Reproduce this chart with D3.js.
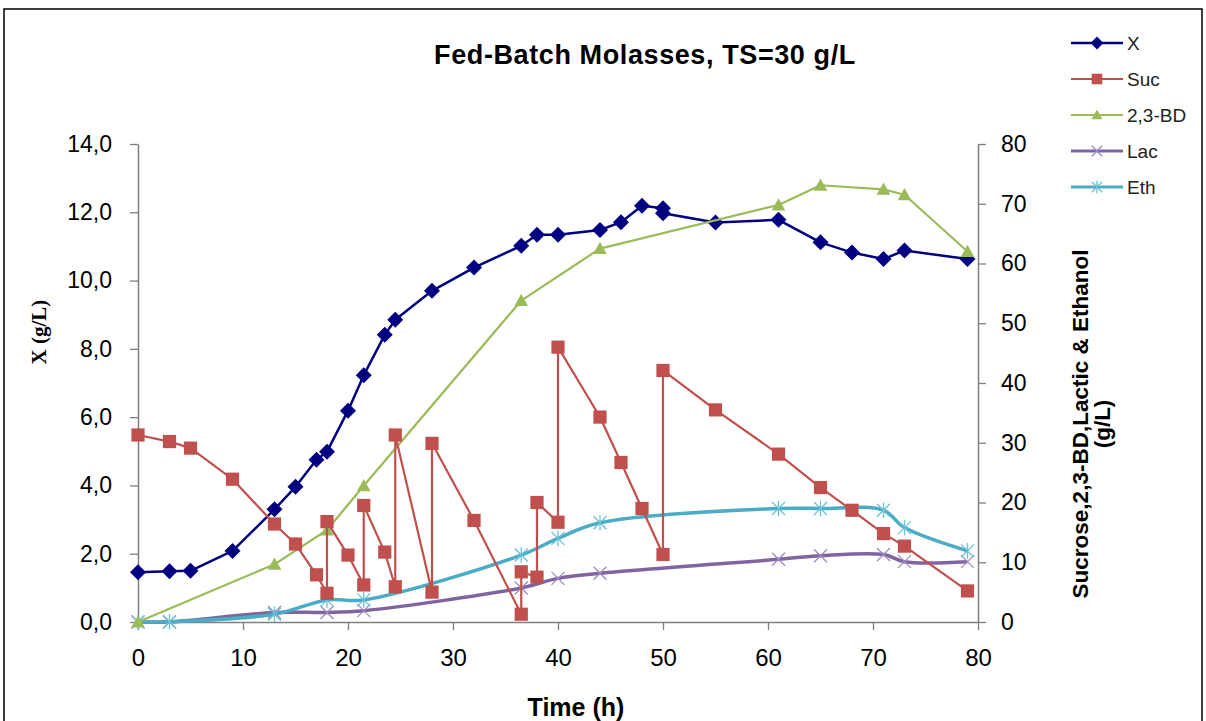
<!DOCTYPE html>
<html><head><meta charset="utf-8">
<script src="https://cdn.jsdelivr.net/npm/d3@7"></script>
<style>
html,body{margin:0;padding:0;background:#fff;}
svg{display:block;}
text{font-family:"Liberation Sans",Arial,sans-serif;}
</style></head>
<body>
<script>
// ---- data ----
const xTime = [0,3,5,9,13,15,17,18,20,21.5,23.5,24.5,28,32,36.5,38,40,44,46,48,50,50,55,61,65,68,71,73,79];
const xBio  = [1.46,1.49,1.50,2.08,3.30,3.96,4.75,4.99,6.19,7.23,8.41,8.85,9.70,10.38,11.02,11.34,11.34,11.48,11.71,12.19,12.12,11.97,11.70,11.78,11.12,10.82,10.63,10.88,10.63];

const sucTime = [0,3,5,9,13,15,17,18,18,20,21.5,21.5,23.5,24.5,24.5,28,28,32,36.5,36.5,38,38,40,40,44,46,48,50,50,55,61,65,68,71,73,79];
const sucVal  = [31.3,30.2,29.1,23.9,16.4,13.05,7.9,4.8,16.8,11.2,6.2,19.5,11.7,5.9,31.3,5.0,29.9,17.0,1.3,8.4,7.5,20.0,16.7,46.0,34.3,26.7,19.0,11.3,42.1,35.5,28.1,22.5,18.7,14.8,12.7,5.2];

const bdTime = [0,13,18,21.5,36.5,44,61,65,71,73,79];
const bdVal  = [0,9.65,15.4,22.8,53.8,62.5,69.8,73.1,72.4,71.5,62.0];

const lacTime = [0,3,13,18,21.5,36.5,40,44,61,65,71,73,79];
const lacVal  = [0,0,1.6,1.6,1.9,5.7,7.3,8.15,10.5,11.1,11.3,10.1,10.1];

const ethTime = [0,3,13,18,21.5,36.5,40,44,61,65,71,73,79];
const ethVal  = [0,0.05,1.3,3.7,3.7,11.2,14.0,16.6,19.0,19.0,18.7,15.8,11.9];

const xTicks = [0,10,20,30,40,50,60,70,80];
const yLeftTicks = [0,2,4,6,8,10,12,14];
const yRightTicks = [0,10,20,30,40,50,60,70,80];

const seriesNames = ["X","Suc","2,3-BD","Lac","Eth"];
const colors = {X:"#000080", Suc:"#C0504D", BD:"#9BBB59", Lac:"#8064A2", Eth:"#4BACC6"};

// ---- layout ----
const W = 1206, H = 721;
const svg = d3.select("body").append("svg").attr("width", W).attr("height", H);
svg.append("rect").attr("x",4).attr("y",9).attr("width",1198).attr("height",730)
  .attr("fill","#fff").attr("stroke","#000").attr("stroke-width",1.5);

const x = d3.scaleLinear().domain([0,80]).range([138,978]);
const yL = d3.scaleLinear().domain([0,14]).range([622,144]);
const yR = d3.scaleLinear().domain([0,80]).range([622,144]);

const axisColor = "#7f7f7f";
function styleAxis(g){
  g.select(".domain").attr("stroke",axisColor).attr("stroke-width",1.5);
  g.selectAll(".tick line").attr("stroke",axisColor).attr("stroke-width",1.3);
  g.selectAll(".tick text").attr("fill","#000").style("font-size","23px");
}

const gx = svg.append("g").attr("transform","translate(0,622)")
  .call(d3.axisBottom(x).tickValues(xTicks).tickSize(8).tickSizeOuter(0).tickPadding(19).tickFormat(d3.format("d")));
styleAxis(gx);
gx.selectAll(".tick text").style("font-family","'Liberation Sans Narrow','Liberation Sans',Arial,sans-serif").style("font-size","24px");

const gl = svg.append("g").attr("transform","translate(138,0)")
  .call(d3.axisLeft(yL).tickValues(yLeftTicks).tickSize(8).tickSizeOuter(0).tickPadding(18)
    .tickFormat(d => d.toFixed(1).replace(".",",")));
styleAxis(gl);

const gr = svg.append("g").attr("transform","translate(978,0)")
  .call(d3.axisRight(yR).tickValues(yRightTicks).tickSize(8).tickSizeOuter(0).tickPadding(15).tickFormat(d3.format("d")));
styleAxis(gr);

// ---- titles ----
svg.append("text").attr("x",645).attr("y",64).attr("text-anchor","middle")
  .style("font-size","27px").style("letter-spacing","0.6px").style("font-weight","bold").text("Fed-Batch Molasses, TS=30 g/L");
svg.append("text").attr("x",576).attr("y",716).attr("text-anchor","middle")
  .style("font-family","'Liberation Sans Narrow','Liberation Sans',Arial,sans-serif")
  .style("font-size","25px").style("font-weight","bold").text("Time (h)");
svg.append("text").attr("transform","translate(46,332) rotate(-90)").attr("text-anchor","middle")
  .style("font-family","'Liberation Serif','Times New Roman',serif")
  .style("font-size","21px").style("font-weight","bold").text("X (g/L)");
const rt = svg.append("text").attr("transform","translate(1088,424) rotate(-90)").attr("text-anchor","middle")
  .style("font-size","22.5px").style("font-weight","bold");
rt.append("tspan").attr("x",0).attr("y",0).text("Sucrose,2,3-BD,Lactic & Ethanol");
rt.append("tspan").attr("x",0).attr("y",22).text("(g/L)");

// ---- markers ----
function marker(g, type, cx, cy, color, scale){
  const s = scale || 1;
  if(type==="diamond"){
    const r = 8*s;
    g.append("path").attr("d",`M${cx},${cy-r}L${cx+r},${cy}L${cx},${cy+r}L${cx-r},${cy}Z`).attr("fill",color);
  } else if(type==="square"){
    const r = 6.6*s;
    g.append("rect").attr("x",cx-r).attr("y",cy-r).attr("width",2*r).attr("height",2*r).attr("fill",color);
  } else if(type==="triangle"){
    const r = 6.8*s;
    g.append("path").attr("d",`M${cx},${cy-r}L${cx+r},${cy+r*0.8}L${cx-r},${cy+r*0.8}Z`).attr("fill",color);
  } else if(type==="cross"){
    const r = 6.5*s;
    g.append("path").attr("d",`M${cx-r},${cy-r}L${cx+r},${cy+r}M${cx-r},${cy+r}L${cx+r},${cy-r}`)
      .attr("stroke",color).attr("stroke-width",1.3).attr("fill","none");
  } else if(type==="star"){
    const r = 6.5*s;
    g.append("path").attr("d",`M${cx-r},${cy-r}L${cx+r},${cy+r}M${cx-r},${cy+r}L${cx+r},${cy-r}M${cx},${cy-r*1.2}L${cx},${cy+r*1.2}`)
      .attr("stroke",color).attr("stroke-width",1.3).attr("fill","none");
  }
}

function drawSeries(times, vals, yScale, color, width, curve, mtype, mcolor){
  const pts = times.map((t,i)=>[t,vals[i]]);
  const line = d3.line().x(d=>x(d[0])).y(d=>yScale(d[1])).curve(curve);
  const g = svg.append("g");
  g.append("path").datum(pts).attr("d",line).attr("fill","none").attr("stroke",color)
    .attr("stroke-width",width).attr("stroke-linejoin","round");
  pts.forEach(d=>marker(g, mtype, x(d[0]), yScale(d[1]), mcolor));
}

drawSeries(xTime, xBio, yL, colors.X, 2.5, d3.curveLinear, "diamond", colors.X);
drawSeries(lacTime, lacVal, yR, colors.Lac, 3.5, d3.curveCatmullRom.alpha(0.5), "cross", "#9d8bbf");
drawSeries(ethTime, ethVal, yR, colors.Eth, 3.5, d3.curveCatmullRom.alpha(0.5), "star", "#6cc0d6");
drawSeries(bdTime, bdVal, yR, colors.BD, 2.2, d3.curveLinear, "triangle", colors.BD);
drawSeries(sucTime, sucVal, yR, colors.Suc, 2.2, d3.curveLinear, "square", colors.Suc);

// ---- legend ----
const legTypes = [["diamond",colors.X,colors.X,2.5],["square",colors.Suc,colors.Suc,2.2],["triangle",colors.BD,colors.BD,2.2],["cross",colors.Lac,"#9d8bbf",3],["star",colors.Eth,"#6cc0d6",3]];
seriesNames.forEach((n,i)=>{
  const yy = 43 + i*36;
  const g = svg.append("g");
  g.append("line").attr("x1",1071).attr("x2",1123).attr("y1",yy).attr("y2",yy)
    .attr("stroke",legTypes[i][1]).attr("stroke-width",legTypes[i][3]);
  marker(g, legTypes[i][0], 1097, yy, legTypes[i][2], 0.8);
  g.append("text").attr("x",1127).attr("y",yy+7).style("font-size","19px").attr("fill","#222").text(n);
});
</script>
</body></html>
